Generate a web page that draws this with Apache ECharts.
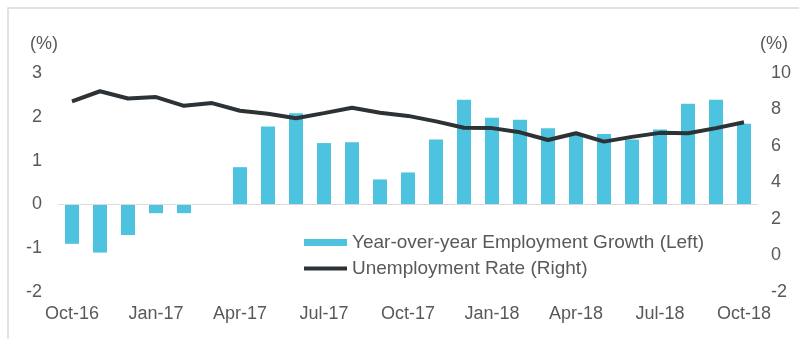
<!DOCTYPE html>
<html>
<head>
<meta charset="utf-8">
<script src="https://cdn.jsdelivr.net/npm/echarts@6/dist/echarts.min.js"></script>
<style>
  html, body { margin: 0; padding: 0; background: #ffffff; }
  #chart { width: 799px; height: 339px; }
</style>
</head>
<body>
<div id="chart"></div>
<script>
// Monthly categories, October 2016 through October 2018
const months = [
  'Oct-16', 'Nov-16', 'Dec-16', 'Jan-17', 'Feb-17', 'Mar-17', 'Apr-17', 'May-17', 'Jun-17',
  'Jul-17', 'Aug-17', 'Sep-17', 'Oct-17', 'Nov-17', 'Dec-17', 'Jan-18', 'Feb-18', 'Mar-18',
  'Apr-18', 'May-18', 'Jun-18', 'Jul-18', 'Aug-18', 'Sep-18', 'Oct-18'
];

// Year-over-year employment growth, % (left axis)
const employmentGrowth = [
  -0.9, -1.1, -0.7, -0.2, -0.2, 0.0, 0.85, 1.78, 2.08,
  1.40, 1.42, 0.57, 0.73, 1.48, 2.39, 1.98, 1.93, 1.74,
  1.60, 1.61, 1.48, 1.71, 2.30, 2.39, 1.84
];

// Unemployment rate, % (right axis)
const unemploymentRate = [
  8.45, 9.0, 8.6, 8.68, 8.2, 8.35, 7.93, 7.77, 7.52,
  7.8, 8.1, 7.82, 7.65, 7.35, 7.0, 6.98, 6.75, 6.33,
  6.7, 6.24, 6.5, 6.72, 6.7, 6.98, 7.3
];

const seriesNames = ['Year-over-year Employment Growth (Left)', 'Unemployment Rate (Right)'];

const textColor = '#595959';
const barColor = '#4dc3df';
const lineColor = '#2c3235';
const fontFamily = '"Liberation Sans", Arial, sans-serif';

const chart = echarts.init(document.getElementById('chart'), null, { renderer: 'canvas' });

chart.setOption({
  animation: false,
  backgroundColor: '#ffffff',
  textStyle: { fontFamily: fontFamily, color: textColor },
  graphic: [
    {
      type: 'polyline',
      silent: true,
      shape: { points: [[8, 339], [8, 8], [799, 8]] },
      style: { stroke: '#d9d9d9', lineWidth: 1.5, fill: null }
    }
  ],
  grid: { left: 58, right: 41, top: 73, bottom: 47 },
  legend: {
    orient: 'vertical',
    left: 302,
    top: 233,
    padding: 0,
    itemWidth: 43,
    itemHeight: 7,
    itemGap: 7,
    textStyle: { fontSize: 19, color: textColor, fontFamily: fontFamily },
    data: [
      { name: seriesNames[0], icon: 'rect' },
      { name: seriesNames[1], itemStyle: { opacity: 0 }, lineStyle: { width: 4, color: lineColor } }
    ]
  },
  xAxis: {
    type: 'category',
    data: months,
    axisLine: { show: false },
    axisTick: { show: false },
    axisLabel: {
      interval: 2,
      margin: 13,
      fontSize: 18,
      color: textColor,
      fontFamily: fontFamily
    }
  },
  yAxis: [
    {
      type: 'value',
      min: -2,
      max: 3,
      interval: 1,
      name: '(%)',
      nameLocation: 'end',
      nameGap: 20,
      nameTextStyle: { fontSize: 18, color: textColor, align: 'right', fontFamily: fontFamily },
      axisLine: { show: false },
      axisTick: { show: false },
      splitLine: { show: false },
      axisLabel: { margin: 16, fontSize: 18, color: textColor, fontFamily: fontFamily }
    },
    {
      type: 'value',
      position: 'right',
      min: -2,
      max: 10,
      interval: 2,
      name: '(%)',
      nameLocation: 'end',
      nameGap: 20,
      nameTextStyle: { fontSize: 18, color: textColor, align: 'left', padding: [0, 0, 0, 2], fontFamily: fontFamily },
      axisLine: { show: false },
      axisTick: { show: false },
      splitLine: { show: false },
      axisLabel: { margin: 13, fontSize: 18, color: textColor, fontFamily: fontFamily }
    }
  ],
  series: [
    {
      name: seriesNames[0],
      type: 'bar',
      yAxisIndex: 0,
      data: employmentGrowth,
      barWidth: 14,
      itemStyle: { color: barColor },
      markLine: {
        silent: true,
        symbol: 'none',
        label: { show: false },
        lineStyle: { color: '#dcdcdc', width: 1, type: 'solid' },
        data: [{ yAxis: 0 }]
      },
      z: 2
    },
    {
      name: seriesNames[1],
      type: 'line',
      yAxisIndex: 1,
      data: unemploymentRate,
      symbol: 'none',
      lineStyle: { color: lineColor, width: 4 },
      itemStyle: { color: lineColor },
      z: 3
    }
  ]
});
</script>
</body>
</html>
